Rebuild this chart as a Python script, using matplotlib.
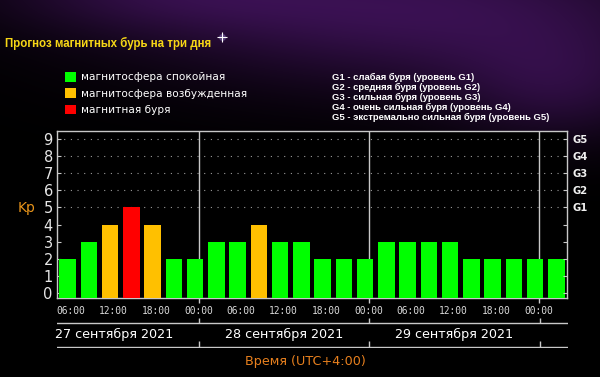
import numpy as np
import matplotlib
matplotlib.use("Agg")
import matplotlib.pyplot as plt
from matplotlib.patches import Patch

# ---------------- data ----------------
kp_values = [2, 3, 4, 5, 4, 2, 2, 3, 3, 4, 3, 3, 2, 2, 2, 3, 3, 3, 3, 2, 2, 2, 2, 2]
start_hour = 4          # local time (UTC+4) of first 3-hour interval
step_hours = 3
day_labels = ["27 сентября 2021", "28 сентября 2021", "29 сентября 2021"]
time_ticks = [6, 12, 18, 24, 30, 36, 42, 48, 54, 60, 66, 72]
time_tick_labels = ["06:00", "12:00", "18:00", "00:00"] * 3
g_levels = [5, 6, 7, 8, 9]
g_labels = ["G1", "G2", "G3", "G4", "G5"]
legend_labels = ["магнитосфера спокойная", "магнитосфера возбужденная", "магнитная буря"]
g_legend = ["G1 - слабая буря (уровень G1)",
            "G2 - средняя буря (уровень G2)",
            "G3 - сильная буря (уровень G3)",
            "G4 - очень сильная буря (уровень G4)",
            "G5 - экстремально сильная буря (уровень G5)"]
title = "Прогноз магнитных бурь на три дня"
xlabel = "Время (UTC+4:00)"

C_GREEN, C_ORANGE, C_RED = "#00ff00", "#ffc000", "#ff0000"

def bar_color(v):
    if v >= 5:
        return C_RED
    if v >= 4:
        return C_ORANGE
    return C_GREEN

W, H = 600, 377
fig = plt.figure(figsize=(W / 100, H / 100), dpi=100, facecolor="black")

# ---------------- background (space nebula) ----------------
bg = fig.add_axes([0, 0, 1, 1])
bg.set_axis_off()
yy, xx = np.mgrid[0:H, 0:W]
glow = (0.9 * np.exp(-((xx - 420) ** 2) / (2 * 200 ** 2) - ((yy - 10) ** 2) / (2 * 55 ** 2))
        + 0.5 * np.exp(-((xx - 150) ** 2) / (2 * 120 ** 2) - ((yy + 10) ** 2) / (2 * 30 ** 2))
        + 0.5 * np.exp(-((xx - 560) ** 2) / (2 * 80 ** 2) - ((yy - 90) ** 2) / (2 * 40 ** 2)))
glow = np.clip(glow, 0, 1)
img = np.zeros((H, W, 3))
img[..., 0] = glow * 0.24
img[..., 1] = glow * 0.07
img[..., 2] = glow * 0.34
bg.imshow(img, extent=[0, W, H, 0], aspect="auto")
bg.set_xlim(0, W)
bg.set_ylim(H, 0)
bg.plot([222], [37], marker="o", ms=5, color="#b8a0ff", alpha=0.35, mew=0)
bg.plot([222], [37], marker="+", ms=7, color="white", mew=0.8)

# ---------------- main chart ----------------
L, R, T, B = 57, 567, 131, 298
ax = fig.add_axes([L / W, 1 - B / H, (R - L) / W, (B - T) / H])
ax.set_facecolor("black")
ymin, ymax = -0.29, 9.47
xmin = start_hour
xmax = start_hour + step_hours * len(kp_values)
ax.set_xlim(xmin, xmax)
ax.set_ylim(ymin, ymax)

centers = [start_hour + step_hours * (i + 0.5) for i in range(len(kp_values))]
heights = [v - ymin for v in kp_values]
ax.bar(centers, heights, bottom=ymin, width=2.35,
       color=[bar_color(v) for v in kp_values], linewidth=0, zorder=3)

# dotted storm-level grid
for lvl in g_levels:
    ax.axhline(lvl, color="#9a9a9a", lw=0.8, linestyle=(0, (1, 5)), zorder=1)

# day boundaries
day_bounds = [24, 48, 72]
for d in day_bounds:
    ax.axvline(d, color="#c8c8c8", lw=1.0, zorder=2)
ax.vlines(day_bounds, -0.03, 0, transform=ax.get_xaxis_transform(),
          color="#c8c8c8", lw=1.0, clip_on=False)

for s in ax.spines.values():
    s.set_color("#c8c8c8")
    s.set_linewidth(1.0)

ax.set_yticks(range(0, 10))
ax.tick_params(axis="y", direction="in", length=3, color="#c8c8c8",
               labelcolor="#e6e6e6", labelsize=10.5, pad=3)
for t in ax.get_yticklabels():
    t.set_fontfamily("DejaVu Sans")

ax.set_xticks(time_ticks)
ax.set_xticklabels(time_tick_labels, fontfamily="DejaVu Sans Mono")
ax.set_xticks([h for h in range(xmin + 2, xmax, 3) if h % 6 != 0], minor=True)
ax.tick_params(axis="x", which="major", direction="in", length=2.5, color="#c8c8c8",
               labelcolor="#d8d8d8", labelsize=6.9, pad=5.5)
ax.tick_params(axis="x", which="minor", direction="in", length=2.5, color="#c8c8c8")

# right axis with G levels
axr = ax.twinx()
axr.set_ylim(ymin, ymax)
axr.set_yticks(range(0, 10))
axr.set_yticklabels(["" if i not in g_levels else g_labels[g_levels.index(i)] for i in range(10)],
                    fontweight="bold", fontfamily="DejaVu Sans")
axr.tick_params(axis="y", direction="in", length=3, color="#c8c8c8",
                labelcolor="#f0f0f0", labelsize=7.2, pad=4)
for s in axr.spines.values():
    s.set_visible(False)

# ---------------- date rows ----------------
D_T, D_B = 318, 348
axd = fig.add_axes([L / W, 1 - D_B / H, (R - L + 1) / W, (D_B - D_T) / H], sharex=ax)
axd.set_axis_off()
axd.set_ylim(0, 30)
for yline, ytop in [(25.3, 30), (1.3, 7)]:
    axd.axhline(yline, color="#c8c8c8", lw=1.0, xmin=0, xmax=1)
    axd.vlines(day_bounds, yline, ytop, color="#c8c8c8", lw=1.0)
for i, lab in enumerate(day_labels):
    axd.text(12 + 24 * i, 14, lab, ha="center", va="center", color="white",
             fontsize=9.2, fontfamily="DejaVu Sans", clip_on=False)

# ---------------- texts ----------------
fig.text(5 / W, 1 - 43 / H, title, color="#f7d716", fontsize=8.3,
         fontweight="bold", fontfamily="Liberation Sans", ha="left", va="center")
fig.text(27 / W, 1 - 208 / H, "Kp", color="#e8941a", fontsize=10,
         fontfamily="DejaVu Sans", ha="center", va="center")
fig.text(305 / W, 1 - 361 / H, xlabel, color="#e8801e", fontsize=9.2,
         fontfamily="DejaVu Sans", ha="center", va="center")

for i, line in enumerate(g_legend):
    fig.text(332 / W, 1 - (77 + 10 * i) / H, line, color="white", fontsize=6.8,
             fontweight="bold", fontfamily="Liberation Sans", ha="left", va="center")

handles = [Patch(facecolor=c, edgecolor="none") for c in (C_GREEN, C_ORANGE, C_RED)]
leg = fig.legend(handles, legend_labels, loc="upper left",
                 bbox_to_anchor=(65 / W, 1 - 72 / H), frameon=False,
                 handlelength=1.05, handleheight=1.05, handletextpad=0.45,
                 labelspacing=0.55, borderaxespad=0, borderpad=0,
                 prop={"family": "DejaVu Sans", "size": 7.6}, labelcolor="white")

fig.savefig("out.png", dpi=100, facecolor="black")
